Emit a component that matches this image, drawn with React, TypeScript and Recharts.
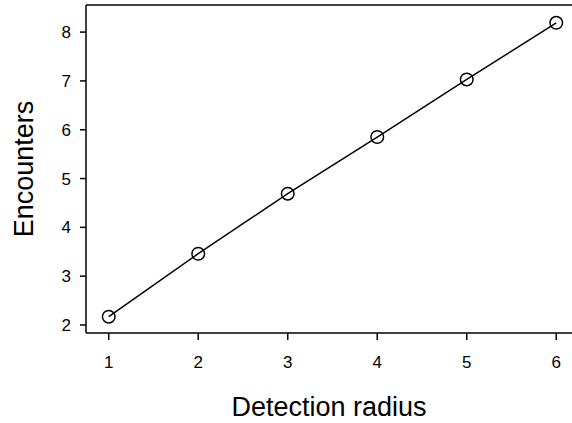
import { Line, LineChart, ReferenceLine, XAxis, YAxis } from "recharts";

const radius = [1, 2, 3, 4, 5, 6];
const encounters = [2.17, 3.46, 4.69, 5.85, 7.03, 8.19];
const xTicks = [1, 2, 3, 4, 5, 6];
const yTicks = [2, 3, 4, 5, 6, 7, 8];

const X_MIN = 0.746;
const X_MAX = 6.176;
const Y_MIN = 1.836;
const Y_MAX = 8.555;

const FONT = "'Liberation Sans', Arial, sans-serif";

const data = radius.map((r, i) => ({ radius: r, encounters: encounters[i] }));

function XTitle({ viewBox }: any) {
  return (
    <text
      x={viewBox.x + viewBox.width / 2}
      y={viewBox.y + 83}
      textAnchor="middle"
      fontSize={27}
      fontFamily={FONT}
      fill="#000"
    >
      Detection radius
    </text>
  );
}

function YTitle({ viewBox }: any) {
  const cx = 33;
  const cy = viewBox.y + viewBox.height / 2;
  return (
    <text
      x={cx}
      y={cy}
      transform={`rotate(-90, ${cx}, ${cy})`}
      textAnchor="middle"
      fontSize={27}
      fontFamily={FONT}
      fill="#000"
    >
      Encounters
    </text>
  );
}

export default function App() {
  return (
    <div style={{ position: "absolute", left: 0, top: 0, width: 572, height: 423, background: "#fff" }}>
      <LineChart width={572} height={423} data={data} margin={{ top: 5, right: 0, left: 0, bottom: 0 }}>
        <XAxis
          dataKey="radius"
          type="number"
          domain={[X_MIN, X_MAX]}
          ticks={xTicks}
          allowDataOverflow
          height={90}
          stroke="#000"
          strokeWidth={1.5}
          tickSize={7}
          tickMargin={16}
          fontSize={17}
          fontFamily={FONT}
          tick={{ fill: "#000", fontSize: 17, fontFamily: FONT }}
          label={<XTitle />}
        />
        <YAxis
          type="number"
          domain={[Y_MIN, Y_MAX]}
          ticks={yTicks}
          allowDataOverflow
          width={86}
          stroke="#000"
          strokeWidth={1.5}
          tickSize={6}
          tickMargin={9}
          fontSize={17}
          fontFamily={FONT}
          tick={{ fill: "#000", fontSize: 17, fontFamily: FONT }}
          label={<YTitle />}
        />
        <ReferenceLine y={Y_MAX} stroke="#000" strokeWidth={1.5} ifOverflow="visible" />
        <Line
          dataKey="encounters"
          type="linear"
          stroke="#000"
          strokeWidth={1.5}
          dot={{ r: 6.3, fill: "none", stroke: "#000", strokeWidth: 1.5 }}
          isAnimationActive={false}
        />
      </LineChart>
    </div>
  );
}
